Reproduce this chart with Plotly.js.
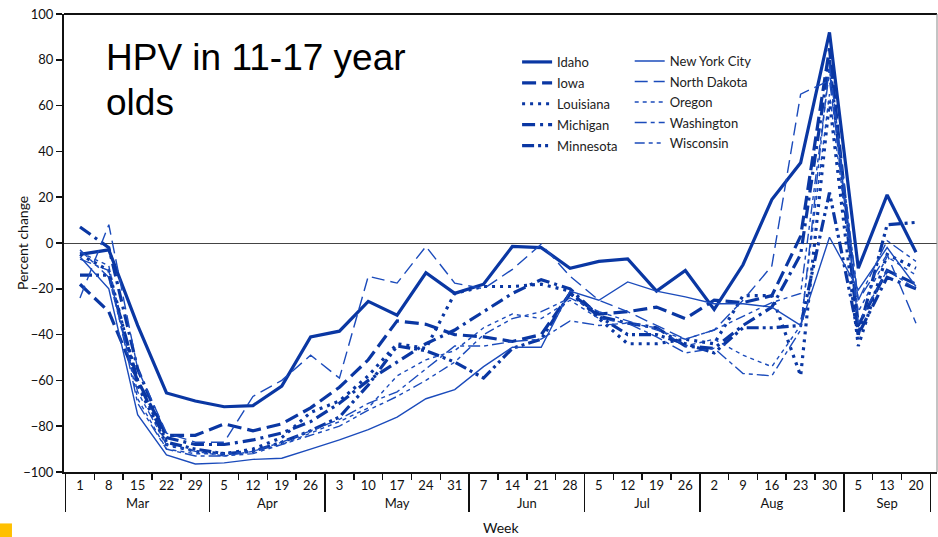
<!DOCTYPE html>
<html>
<head>
<meta charset="utf-8">
<script src="https://cdn.plot.ly/plotly-3.0.1.min.js"></script>
<style>html,body{margin:0;padding:0;background:#fff;}#chart{width:938px;height:537px;}</style>
</head>
<body>
<div id="chart"></div>
<script>
// Week categories (two-level: month, day)
const months = ['Mar','Mar','Mar','Mar','Mar','Apr','Apr','Apr','Apr','May','May','May','May','May','Jun','Jun','Jun','Jun','Jul','Jul','Jul','Jul','Aug','Aug','Aug','Aug','Aug','Sep','Sep','Sep'];
const days = ['1','8','15','22','29','5','12','19','26','3','10','17','24','31','7','14','21','28','5','12','19','26','2','9','16','23','30','5','13','20'];

// Percent change by jurisdiction
const idaho      = [-5,-3,-36,-65.5,-69,-71.5,-71,-62.5,-41,-38.5,-25.5,-31.5,-13,-22,-18,-1.5,-2,-11,-8,-7,-21,-12,-29,-9.5,19,35,92,-11,21,-4];
const iowa       = [-18,-30,-60,-84,-84,-79,-82,-79,-72,-63,-51,-34,-35.5,-40,-41,-43,-40,-22,-31,-30,-28,-33,-25,-26,-23,3,85,-36,-12,-18];
const louisiana  = [-5,-12,-62,-88,-91,-92,-90,-85,-74,-69,-58,-44,-46,-22,-19,-19,-18,-21,-33,-44,-44,-42,-44,-23,-23,-58,62,-45,-5,-11];
const michigan   = [7,-2,-55,-85,-88,-88,-86,-83,-78,-70,-60,-52,-44,-38,-30,-22,-16,-20,-32,-35,-37,-45,-46,-36,-28,-5,80,-40,-15,-20];
const minnesota  = [-14,-14,-60,-87,-90,-92,-91,-87,-82,-76,-62,-45,-47,-52,-59,-46,-42,-22,-32,-40,-40,-44,-48,-37,-37,-36,22,-40,8,9];
const nyc        = [-6,-20,-75,-92.5,-96.5,-96,-94.5,-94,-90,-86,-81.5,-76,-68,-64,-54,-45.5,-45.5,-21,-25,-17,-21,-23.5,-26.5,-26.5,-28,-36,2.5,-20.5,-2,-19];
const northDakota= [-24,8,-55,-83,-87,-87,-67,-60,-49,-59,-14.5,-17.5,-1.5,-17.5,-20,-11.5,-0.5,-14.5,-25,-30,-36,-42,-38,-25,-10,65,71,-25,-5,-35];
const oregon     = [-4,-10,-68,-90,-92,-92,-91,-88,-83,-78,-72,-58,-51,-47,-37,-31,-33,-25,-33,-35,-37,-45,-42,-49,-54,-36,65,-30,-6,-14];
const washington = [-7,-12,-70,-90,-93,-93,-91,-87,-82,-77,-70,-65,-55,-45,-45,-43,-42,-34,-36,-35,-41,-48,-46,-57,-58,-38,78,-25,1,-8];
const wisconsin  = [-3,-15,-65,-88,-91,-93,-92,-88,-84,-80,-73,-67,-60,-52,-40,-33,-30,-24,-30,-34,-38,-42,-38,-32,-26,-22,75,-35,-12,-20];

const names = ['Idaho','Iowa','Louisiana','Michigan','Minnesota','New York City','North Dakota','Oregon','Washington','Wisconsin'];
const series = [idaho, iowa, louisiana, michigan, minnesota, nyc, northDakota, oregon, washington, wisconsin];

const thick = '#0a37a3', thin = '#1b4bbb';
const styles = [
  {w:3.2, c:thick, d:'solid'},
  {w:3.2, c:thick, d:'14px,6px'},
  {w:3.2, c:thick, d:'3px,5px'},
  {w:3.2, c:thick, d:'13px,5px,3px,5px'},
  {w:3.2, c:thick, d:'12px,4px,3px,4px,3px,4px'},
  {w:1.4, c:thin, d:'solid'},
  {w:1.4, c:thin, d:'13px,6px'},
  {w:1.4, c:thin, d:'4px,4px'},
  {w:1.4, c:thin, d:'12px,4px,4px,4px'},
  {w:1.4, c:thin, d:'10px,4px,4px,4px,4px,4px'}
];

const traces = series.map((ys, k) => ({
  type: 'scatter', mode: 'lines',
  x: [months, days], y: ys,
  name: names[k], legendgroup: names[k],
  legend: k < 5 ? 'legend' : 'legend2',
  line: {color: styles[k].c, width: styles[k].w, dash: styles[k].d},
  hoverinfo: 'skip'
}));

const FF = 'Lato, "Open Sans", sans-serif';
const legendFont = {family: FF, size: 13, color: '#222'};
const layout = {
  width: 938, height: 537,
  margin: {l: 64, r: 1, t: 14, b: 65},
  paper_bgcolor: '#fff', plot_bgcolor: '#fff',
  showlegend: true,
  font: {family: FF, size: 13, color: '#111'},
  xaxis: {
    type: 'multicategory', range: [-0.555, 29.73],
    showline: true, linecolor: '#111', linewidth: 2,
    ticks: 'outside', ticklen: 6, tickcolor: '#111', tickwidth: 1.5,
    showdividers: true, dividercolor: '#111', dividerwidth: 1.5,
    showgrid: false, zeroline: false,
    tickfont: {family: FF, size: 13, color: '#111'}
  },
  yaxis: {
    range: [-100, 100], dtick: 20,
    showline: true, linecolor: '#111', linewidth: 2,
    ticks: 'outside', ticklen: 6, tickcolor: '#111', tickwidth: 1.5,
    showgrid: false, zeroline: true, zerolinecolor: '#444', zerolinewidth: 1,
    tickfont: {family: FF, size: 13, color: '#111'}
  },
  legend: {x: 0.519, y: 0.928, xanchor: 'left', yanchor: 'top', bgcolor: 'rgba(0,0,0,0)', font: legendFont, tracegroupgap: 1, traceorder: 'grouped'},
  legend2: {x: 0.648, y: 0.930, xanchor: 'left', yanchor: 'top', bgcolor: 'rgba(0,0,0,0)', font: legendFont, tracegroupgap: 0.6, traceorder: 'grouped'},
  shapes: [
    {type: 'line', xref: 'paper', yref: 'paper', x0: 0, x1: 1, y0: 1, y1: 1, line: {color: '#111', width: 2}},
    {type: 'line', xref: 'paper', yref: 'paper', x0: 1, x1: 1, y0: 0, y1: 1, line: {color: '#888', width: 1}},
    {type: 'rect', xref: 'paper', yref: 'paper', x0: -0.0733, x1: -0.0596, y0: -0.1123, y1: -0.142, fillcolor: '#FFC000', line: {width: 0}}
  ],
  annotations: [
    {text: 'HPV in 11-17 year', xref: 'paper', yref: 'paper', x: 0.046, y: 0.9542, xanchor: 'left', yanchor: 'top', align: 'left', showarrow: false,
     font: {family: '"Liberation Sans", Arial, sans-serif', size: 37, color: '#000'}},
    {text: 'olds', xref: 'paper', yref: 'paper', x: 0.046, y: 0.8568, xanchor: 'left', yanchor: 'top', align: 'left', showarrow: false,
     font: {family: '"Liberation Sans", Arial, sans-serif', size: 37, color: '#000'}},
    {text: 'Percent change', xref: 'paper', yref: 'paper', x: -0.048, y: 0.5, xanchor: 'center', yanchor: 'middle', textangle: -90, showarrow: false,
     font: {family: FF, size: 14, color: '#111'}},
    {text: 'Week', xref: 'paper', yref: 'paper', x: 0.5, y: -0.121, xanchor: 'center', yanchor: 'middle', showarrow: false,
     font: {family: FF, size: 14, color: '#111'}}
  ]
};

Plotly.newPlot('chart', traces, layout, {staticPlot: true, displayModeBar: false});
</script>
</body>
</html>
